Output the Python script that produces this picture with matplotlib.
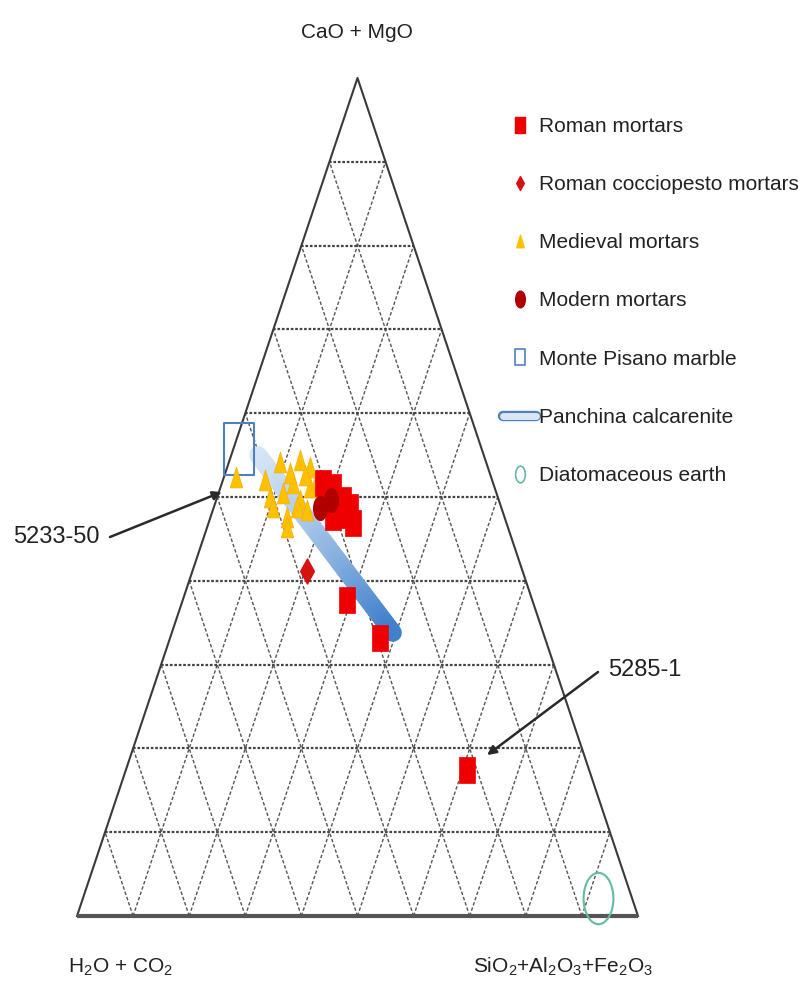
import numpy as np
import matplotlib
matplotlib.use("Agg")
import matplotlib.pyplot as plt
from matplotlib.path import Path
from matplotlib.lines import Line2D
from matplotlib.collections import LineCollection
import matplotlib.patheffects as pe
from matplotlib import font_manager

# ---------------- data (wt%, CaO+MgO / H2O+CO2 / SiO2+Al2O3+Fe2O3) -------------
roman_cao = [51.2, 48.8, 47.6, 50.0, 46.9, 49.6, 51.7, 37.7, 33.2, 17.4, 47.9]
roman_sio2 = [20.0, 24.3, 21.8, 19.6, 25.8, 22.6, 18.0, 29.3, 37.4, 60.8, 22.9]
roman_h2o = [28.8, 26.9, 30.6, 30.4, 27.3, 27.8, 30.3, 33.0, 29.4, 21.8, 29.2]

coccio_cao = [41.2]
coccio_sio2 = [20.4]
coccio_h2o = [38.4]

medieval_cao = [52.4, 54.2, 54.4, 53.6, 50.0, 50.5, 51.7, 49.6, 51.2, 47.6, 48.8,
                48.8, 52.0, 52.9, 48.5, 46.4, 52.0, 52.6]
medieval_sio2 = [2.1, 9.1, 12.6, 14.7, 9.4, 11.5, 12.7, 14.9, 15.9, 13.6, 14.8,
                 10.5, 16.8, 11.6, 16.8, 14.2, 7.5, 14.3]
medieval_h2o = [45.5, 36.7, 33.0, 31.7, 40.6, 38.0, 35.6, 35.5, 32.9, 38.8, 36.4,
                40.7, 31.2, 35.5, 34.7, 39.4, 40.5, 33.1]

modern_cao = [48.7, 49.6]
modern_sio2 = [19.0, 20.5]
modern_h2o = [32.3, 29.9]

marble_cao = [55.7]
marble_sio2 = [1.0]
marble_h2o = [43.3]

panchina_cao = [55.0, 33.8]
panchina_sio2 = [4.8, 39.4]
panchina_h2o = [40.2, 26.8]

diatom_cao = [2.2]
diatom_sio2 = [91.7]
diatom_h2o = [6.1]

labels = ["Roman mortars", "Roman cocciopesto mortars", "Medieval mortars",
          "Modern mortars", "Monte Pisano marble", "Panchina calcarenite",
          "Diatomaceous earth"]

ann_labels = ["5233-50", "5285-1"]
ann_cao = [50.6, 19.2]
ann_sio2 = [0.5, 63.5]
ann_h2o = [48.9, 17.3]

grid_ticks = [10, 20, 30, 40, 50, 60, 70, 80, 90]

# ---------------- fonts -----------------------------------------------------------
avail = {f.name for f in font_manager.fontManager.ttflist}
FONT = "Liberation Sans Narrow" if "Liberation Sans Narrow" in avail else "Liberation Sans"
plt.rcParams["font.family"] = [FONT, "DejaVu Sans"]
plt.rcParams["mathtext.fontset"] = "custom"
plt.rcParams["mathtext.rm"] = FONT
TXT = "#222222"
FS = 15


def tern(cao, sio2, h2o):
    cao = np.asarray(cao, float)
    sio2 = np.asarray(sio2, float)
    h2o = np.asarray(h2o, float)
    tot = cao + sio2 + h2o
    y = cao / tot
    x = sio2 / tot + y / 2.0
    return x, y


# stretched marker shapes (the source image is vertically stretched)
SW = 0.58
rect = Path([(-SW, -1), (SW, -1), (SW, 1), (-SW, 1), (-SW, -1)],
            [Path.MOVETO, Path.LINETO, Path.LINETO, Path.LINETO, Path.CLOSEPOLY])
diam = Path([(0, 1), (0.55, 0), (0, -1), (-0.55, 0), (0, 1)],
            [Path.MOVETO, Path.LINETO, Path.LINETO, Path.LINETO, Path.CLOSEPOLY])
tri = Path([(0, 1), (0.6, -1), (-0.6, -1), (0, 1)],
           [Path.MOVETO, Path.LINETO, Path.LINETO, Path.CLOSEPOLY])
uc = Path.unit_circle()
ell = Path(uc.vertices * np.array([SW, 1.0]), uc.codes)

W, H = 803, 994
fig = plt.figure(figsize=(W / 100, H / 100), dpi=100)
# triangle box in pixels: left 77, right 638, base 916, apex 78
L, R, B, T = 77, 638, 916, 78
ax = fig.add_axes([L / W, 1 - B / H, (R - L) / W, (B - T) / H])
ax.set_xlim(0, 1)
ax.set_ylim(0, 1)
ax.axis("off")

# grid
gcol = "#555555"
for t in grid_ticks:
    c = t / 100.0
    ax.plot([c / 2, 1 - c / 2], [c, c], color="#444444", lw=1.6,
            ls=(0, (1.2, 0.8)), zorder=1, clip_on=False)
    ax.plot([c, c + (1 - c) / 2], [0, 1 - c], color=gcol, lw=1.0,
            ls=(0, (2.5, 1.5)), zorder=1, clip_on=False)
    ax.plot([1 - c, (1 - c) / 2], [0, 1 - c], color=gcol, lw=1.0,
            ls=(0, (2.5, 1.5)), zorder=1, clip_on=False)

# outline
ax.plot([0, 0.5, 1], [0, 1, 0], color="#3a3a3a", lw=1.5, zorder=2, clip_on=False)
ax.plot([0, 1], [0, 0], color="#555555", lw=3.0, zorder=2, clip_on=False,
        solid_capstyle="butt")

# Panchina calcarenite gradient band
px, py = tern(panchina_cao, panchina_sio2, panchina_h2o)
n = 60
tt = np.linspace(0, 1, n + 1)
xs = px[0] + (px[1] - px[0]) * tt
ys = py[0] + (py[1] - py[0]) * tt
segs = [[(xs[i], ys[i]), (xs[i + 1], ys[i + 1])] for i in range(n)]
c0 = np.array([0.84, 0.90, 0.96])
c1 = np.array([0.25, 0.50, 0.80])
cols = [tuple(c0 + (c1 - c0) * (i / (n - 1)) ** 1.3) for i in range(n)]
lc = LineCollection(segs, colors=cols, linewidths=13, capstyle="round",
                    zorder=3, clip_on=False)
ax.add_collection(lc)

# data markers
x, y = tern(marble_cao, marble_sio2, marble_h2o)
ax.plot(x, y, ls="none", marker=rect, ms=37, mfc="none", mec="#4f81bd",
        mew=1.5, zorder=4, clip_on=False)
x, y = tern(diatom_cao, diatom_sio2, diatom_h2o)
ax.plot(x, y, ls="none", marker=ell, ms=37, mfc="none", mec="#62bba2",
        mew=1.5, zorder=4, clip_on=False)
x, y = tern(medieval_cao, medieval_sio2, medieval_h2o)
ax.plot(x, y, ls="none", marker=tri, ms=15, mfc="#ffc000", mec="#f5b000",
        mew=0.5, zorder=5, clip_on=False)
x, y = tern(roman_cao, roman_sio2, roman_h2o)
ax.plot(x, y, ls="none", marker=rect, ms=19, mfc="#ee0000", mec="#ee0000",
        mew=0.5, zorder=6, clip_on=False)
x, y = tern(modern_cao, modern_sio2, modern_h2o)
ax.plot(x, y, ls="none", marker=ell, ms=17, mfc="#b00000", mec="#b00000",
        zorder=7, clip_on=False)
x, y = tern(coccio_cao, coccio_sio2, coccio_h2o)
ax.plot(x, y, ls="none", marker=diam, ms=18, mfc="#d81010", mec="#d81010",
        zorder=7, clip_on=False)

# annotations
ax_x, ax_y = tern(ann_cao, ann_sio2, ann_h2o)
text_pos = [(13, 537), (608, 670)]
start_pos = [(110, 537), (598, 672)]
for lab, xx, yy, tp, sp in zip(ann_labels, ax_x, ax_y, text_pos, start_pos):
    fig.text(tp[0] / W, 1 - tp[1] / H, lab, fontsize=17, color=TXT,
             ha="left", va="center")
    ax.annotate("", xy=(xx, yy), xycoords="data",
                xytext=(sp[0] / W, 1 - sp[1] / H), textcoords="figure fraction",
                arrowprops=dict(arrowstyle="-|>", color="#2a2a2a", lw=1.8,
                                mutation_scale=13, shrinkA=0, shrinkB=0),
                zorder=8)

# axis labels
fig.text(357 / W, 1 - 33 / H, "CaO + MgO", fontsize=FS, color=TXT,
         ha="center", va="center")
fig.text(68 / W, 1 - 967 / H, r"H$_\mathregular{2}$O + CO$_\mathregular{2}$",
         fontsize=FS, color=TXT, ha="left", va="center")
fig.text(473 / W, 1 - 967 / H,
         r"SiO$_\mathregular{2}$+Al$_\mathregular{2}$O$_\mathregular{3}$+Fe$_\mathregular{2}$O$_\mathregular{3}$",
         fontsize=FS, color=TXT, ha="left", va="center")

# legend
band = Line2D([], [], color="#dbe7f5", lw=5, solid_capstyle="round",
              path_effects=[pe.Stroke(linewidth=7.5, foreground="#4f81bd",
                                      capstyle="round"), pe.Normal()])
handles = [
    Line2D([], [], ls="none", marker=rect, ms=12, mfc="#ee0000", mec="#ee0000"),
    Line2D([], [], ls="none", marker=diam, ms=10, mfc="#d81010", mec="#d81010"),
    Line2D([], [], ls="none", marker=tri, ms=9, mfc="#ffc000", mec="#ffc000"),
    Line2D([], [], ls="none", marker=ell, ms=12, mfc="#b00000", mec="#b00000"),
    Line2D([], [], ls="none", marker=rect, ms=12, mfc="none", mec="#4f81bd", mew=1.2),
    band,
    Line2D([], [], ls="none", marker=ell, ms=12, mfc="none", mec="#62bba2", mew=1.2),
]
fig.legend(handles, labels, loc="upper left",
           bbox_to_anchor=(503 / W, 1 - 117 / H), frameon=False,
           fontsize=FS, labelcolor=TXT, handlelength=1.6, handletextpad=0.15,
           labelspacing=1.88, borderaxespad=0, borderpad=0)

fig.savefig("out.png", dpi=100)
